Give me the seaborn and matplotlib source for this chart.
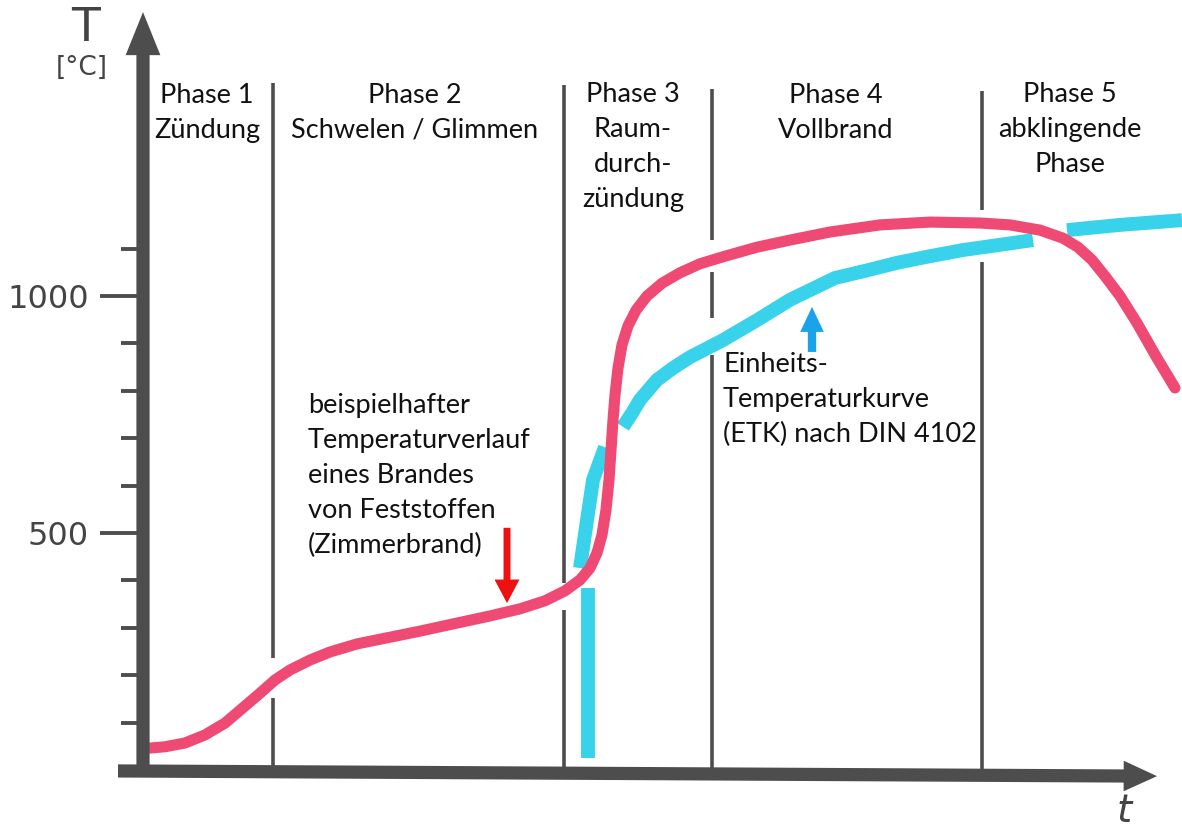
import seaborn as sns
import matplotlib.pyplot as plt

# time (arbitrary minutes) and temperature (°C)
fire_t = [0.5, 2.2, 4.2, 6.2, 8.2, 10.2, 11.7, 13.2, 14.7, 16.7, 18.7, 21.4, 24.2,
          27.7, 31.4, 34.7, 37.7, 40.2, 42.2, 43.7, 44.7, 45.4, 45.9, 46.3, 46.6,
          46.8, 47.0, 47.2, 47.5, 47.9, 48.5, 49.3, 50.4, 51.9, 53.7, 55.7, 58.2,
          61.4, 64.7, 68.7, 73.7, 78.7, 83.7, 86.7, 89.7, 92.0, 93.5, 94.9, 96.2,
          97.7, 99.4, 101.4, 103.2]
fire_T = [46, 49, 57, 74, 99, 135, 162, 190, 211, 232, 249, 266, 278,
          293, 310, 325, 340, 357, 378, 401, 426, 458, 496, 549, 612,
          675, 738, 791, 848, 897, 937, 970, 1000, 1027, 1049, 1068, 1084,
          1103, 1118, 1135, 1150, 1156, 1154, 1150, 1139, 1122, 1103, 1076, 1042,
          1000, 943, 869, 806]

# ETK drawn in four marker strokes
etk_rise_t = [44.5, 44.5]
etk_rise_T = [25, 384]
etk_mid_t = [43.7, 44.4, 45.0, 46.2]
etk_mid_T = [426, 527, 612, 681]
etk_main_t = [48.0, 48.9, 49.7, 51.4, 53.0, 54.7, 58.0, 61.4, 64.7, 69.2, 72.2,
              75.4, 78.7, 82.0, 85.7, 89.0]
etk_main_T = [724, 753, 781, 823, 848, 871, 907, 949, 992, 1038, 1053,
              1070, 1084, 1097, 1108, 1118]
etk_tail_t = [92.4, 97.7, 103.9]
etk_tail_T = [1139, 1150, 1160]

phase_bounds = [13.0, 42.1, 56.9, 83.9]
phase_tops = [1449, 1445, 1437, 1432]
phase_gaps = [[(152, 236)], [(338, 395)], [(876, 954), (1051, 1118)], [(1072, 1181)]]
phase_labels = ["Phase 1\nZündung", "Phase 2\nSchwelen / Glimmen",
                "Phase 3\nRaum-\ndurch-\nzündung", "Phase 4\nVollbrand",
                "Phase 5\nabklingende\nPhase"]
phase_label_t = [6.4, 27.2, 49.0, 69.3, 92.7]

y_ticks_major = [500, 1000]
y_ticks_minor = [100, 200, 300, 400, 600, 700, 800, 900, 1100]

RED = "#ee4a74"
CYAN = "#38d3ea"
GREY = "#4d4d4d"
LINE_STEP = 72.8   # text line step in °C units (~34.5 px)

sns.set_style("white")
plt.rcParams['font.family'] = ['Lato', 'DejaVu Sans']

fig = plt.figure(figsize=(11.82, 8.32), dpi=100)
ax = fig.add_axes([0, 0, 1, 1])
ax.set_xlim(-14.3, 103.9)
ax.set_ylim(-130.8, 1624.5)
for s in ax.spines.values():
    s.set_visible(False)
ax.spines['left'].set_position(('data', 0))

# phase separators, interrupted where the curves cross
for tb, top, gaps in zip(phase_bounds, phase_tops, phase_gaps):
    lo = 0
    for g0, g1 in gaps:
        ax.vlines(tb, lo, g0, color=GREY, lw=2.6, zorder=1)
        lo = g1
    ax.vlines(tb, lo, top, color=GREY, lw=2.6, zorder=1)

# ETK (cyan) and example fire (red)
for xs, ys in [(etk_rise_t, etk_rise_T), (etk_mid_t, etk_mid_T),
               (etk_main_t, etk_main_T), (etk_tail_t, etk_tail_T)]:
    sns.lineplot(x=xs, y=ys, sort=False, estimator=None, color=CYAN, lw=10,
                 solid_capstyle='butt', solid_joinstyle='round', ax=ax, zorder=2)
sns.lineplot(x=fire_t, y=fire_T, sort=False, estimator=None, color=RED, lw=8,
             solid_capstyle='round', solid_joinstyle='round', ax=ax, zorder=3)

# axes drawn as thick marker arrows
ax.annotate("", xy=(0, 1599), xytext=(0, -12),
            arrowprops=dict(arrowstyle="simple,head_length=3.1,head_width=2.5,tail_width=0.95",
                            mutation_scale=10, color=GREY, lw=0, shrinkA=0, shrinkB=0), zorder=4)
ax.annotate("", xy=(101.4, -13), xytext=(-2.5, -2),
            arrowprops=dict(arrowstyle="simple,head_length=2.4,head_width=2.2,tail_width=0.95",
                            mutation_scale=10, color=GREY, lw=0, shrinkA=0, shrinkB=0), zorder=4)

ax.set_xticks([])
ax.set_yticks(y_ticks_major)
ax.set_yticklabels([str(v) for v in y_ticks_major])
ax.set_yticks(y_ticks_minor, minor=True)
ax.tick_params(axis='y', which='major', direction='out', length=31, width=2.8,
               color=GREY, pad=8, labelsize=23, labelcolor="#444444", left=True)
ax.tick_params(axis='y', which='minor', direction='out', length=16, width=2.8,
               color=GREY, left=True)
for lab in ax.get_yticklabels():
    lab.set_family(['DejaVu Sans'])

ax.text(-5.7, 1565, "T", ha='center', va='center', fontsize=34, color="#444444",
        family=['DejaVu Sans'])
ax.text(-6.1, 1481, "[°C]", ha='center', va='center', fontsize=19, color="#444444",
        family=['DejaVu Sans'])
ax.text(98.1, -86, "t", ha='center', va='center', fontsize=28, color="#444444",
        family=['DejaVu Sans'], style='italic')


def block(x, first_baseline, s, **kw):
    # va='baseline' pins the last line, so shift by the number of lines
    n = s.count("\n")
    ax.text(x, first_baseline - n * LINE_STEP, s, va='baseline', fontsize=19.5,
            color="#111111", linespacing=1.50, **kw)


for lab, tx in zip(phase_labels, phase_label_t):
    block(tx, 1407, lab, ha='center', multialignment='center')

block(16.5, 749, "beispielhafter\nTemperaturverlauf\neines Brandes\nvon Feststoffen\n(Zimmerbrand)",
      ha='left')
block(58.0, 838, "Einheits-\nTemperaturkurve\n(ETK) nach DIN 4102", ha='left')

ax.annotate("", xy=(36.4, 352), xytext=(36.4, 511),
            arrowprops=dict(arrowstyle="simple,head_length=1.7,head_width=1.8,tail_width=0.5",
                            mutation_scale=10, color="#ee1111", lw=0, shrinkA=0, shrinkB=0))
ax.annotate("", xy=(66.9, 977), xytext=(66.9, 882),
            arrowprops=dict(arrowstyle="simple,head_length=1.8,head_width=1.7,tail_width=0.6",
                            mutation_scale=10, color="#1aa3e8", lw=0, shrinkA=0, shrinkB=0))

fig.savefig("out.png", dpi=100, facecolor="white")
